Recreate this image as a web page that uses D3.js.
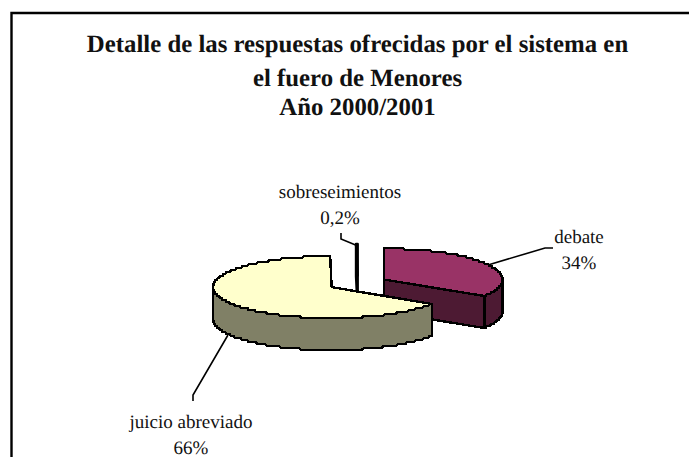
<!DOCTYPE html>
<html>
<head>
<meta charset="utf-8">
<script src="https://cdn.jsdelivr.net/npm/d3@7"></script>
<style>
  html, body { margin: 0; padding: 0; background: #fff; overflow: hidden; }
  text { font-family: "Liberation Serif", serif; fill: #111; text-rendering: geometricPrecision; }
</style>
</head>
<body>
<div id="chart"></div>
<script>
var categories = ["debate", "juicio abreviado", "sobreseimientos"];
var values = [34, 66, 0.2];
var valueLabels = ["34%", "66%", "0,2%"];
var topColors = ["#993366", "#ffffcc", "#000000"];
var sideColors = ["#4d1a33", "#808066", "#000000"];
var titleLines = ["Detalle de las respuestas ofrecidas por el sistema en", "el fuero de Menores", "Año 2000/2001"];

var width = 689, height = 457;

// pie geometry, flattened ellipse with a fixed wall height
var cx = 357.8, cy = 283.3, rx = 118.5, ry = 31, depth = 32;
var explodeX = 30, explodeY = 7.8;

var svg = d3.select("#chart")
            .append("svg")
                .attr("width", width)
                .attr("height", height)
                .style("display", "block");

// chart frame, runs off the right and bottom of the picture
svg.append("path")
    .attr("d", "M11.5,457V13H689")
    .attr("fill", "none")
    .attr("stroke", "#000")
    .attr("stroke-width", 2.4);

svg.selectAll(".title")
    .data(titleLines)
    .enter().append("text")
        .attr("class", "title")
        .attr("x", 357.5)
        .attr("y", function(d, i) { return [52, 86, 115][i]; })
        .attr("text-anchor", "middle")
        .attr("font-size", 24.8)
        .attr("font-weight", "bold")
        .text(function(d) { return d; });

var arcs = d3.pie().sort(null)(values);

function pt(a, c, dy) {
    return [c.x + rx * Math.sin(a), c.y - ry * Math.cos(a) + (dy || 0)];
}

// the rim is stepped on a 2px grid, the reference has a rough stair outline
function rim(a0, a1, dy, c) {
    var n = Math.max(1, Math.ceil((a1 - a0) / 0.02)), out = [];
    for (var i = 0; i <= n; i++) {
        var p = pt(a0 + (a1 - a0) * i / n, c, dy);
        out.push([p[0], Math.round(p[1] / 2) * 2]);
    }
    return out;
}

var line = d3.line();

var slices = arcs.map(function(d, i) {
    var mid = (d.startAngle + d.endAngle) / 2;
    return {
        i: i,
        a0: d.startAngle,
        a1: d.endAngle,
        c: { x: cx + explodeX * Math.sin(mid), y: cy - explodeY * Math.cos(mid) }
    };
});

// back to front: sliver behind the others
var order = [2, 0, 1];
order.forEach(function(k) {
    var s = slices[k], g = svg.append("g");
    var style = function(sel, fill) {
        sel.attr("fill", fill)
           .attr("stroke", "#000")
           .attr("stroke-width", k == 2 ? 2.6 : 2.4)
           .attr("stroke-linejoin", "round")
           .attr("shape-rendering", k == 2 ? "auto" : "crispEdges");
    };
    var apex = [s.c.x, s.c.y];

    function face(a) {
        var e = pt(a, s.c);
        var pts = [apex, e, [e[0], e[1] + depth], [apex[0], apex[1] + depth]];
        g.append("path").call(style, sideColors[k]).attr("d", line(pts) + "Z");
    }

    // cut faces that look to the viewer
    if (s.a1 < Math.PI) face(s.a1);
    if (s.a0 > Math.PI) face(s.a0);

    // front wall of the rim, visible between 90 and 270 degrees
    var lo = Math.max(s.a0, Math.PI / 2), hi = Math.min(s.a1, 3 * Math.PI / 2);
    if (hi > lo) {
        var wall = rim(lo, hi, 0, s.c).concat(rim(lo, hi, depth, s.c).reverse());
        g.append("path").call(style, sideColors[k]).attr("d", line(wall) + "Z");
    }
    var top = [apex].concat(rim(s.a0, s.a1, 0, s.c));
    g.append("path").call(style, topColors[k]).attr("d", line(top) + "Z");
});

// leader lines and data labels
var leaders = [
    [[488, 265], [545, 248], [553, 248]],
    [[228, 335], [193, 395], [193, 401]],
    [[358, 246], [341, 239], [341, 233]]
];
var labelPos = [[579, 243], [191, 428], [340, 198]];

leaders.forEach(function(p) {
    svg.append("path")
        .attr("d", line(p))
        .attr("fill", "none")
        .attr("stroke", "#000")
        .attr("stroke-width", 1.6);
});

categories.forEach(function(name, i) {
    var t = svg.append("text")
        .attr("text-anchor", "middle")
        .attr("font-size", 19);
    t.append("tspan").attr("x", labelPos[i][0]).attr("y", labelPos[i][1]).text(name);
    t.append("tspan").attr("x", labelPos[i][0]).attr("y", labelPos[i][1] + 25.5).text(valueLabels[i]);
});
</script>
</body>
</html>
